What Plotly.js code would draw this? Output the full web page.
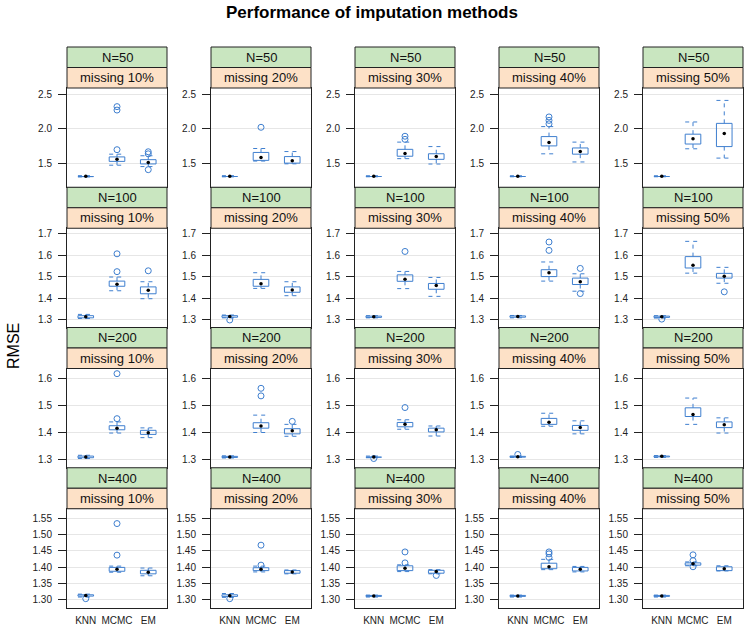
<!DOCTYPE html>
<html><head><meta charset="utf-8">
<script src="https://cdn.plot.ly/plotly-3.0.1.min.js"></script>
<style>html,body{margin:0;padding:0;background:#fff}#chart{width:745px;height:626px}</style>
</head><body><div id="chart"></div>
<script>
const methods = ['KNN', 'MCMC', 'EM'];
const sampleSizes = ['N=50', 'N=100', 'N=200', 'N=400'];
const missingRates = ['missing 10%', 'missing 20%', 'missing 30%', 'missing 40%', 'missing 50%'];

// Box statistics per missing rate: [lower whisker, Q1, median, Q3, upper whisker]
const N50_KNN = [[1.300,1.305,1.310,1.314,1.318],[1.301,1.306,1.310,1.314,1.318],[1.302,1.306,1.310,1.313,1.317],[1.302,1.306,1.310,1.313,1.317],[1.302,1.306,1.310,1.313,1.317]];
const N50_MCMC = [[1.470,1.525,1.556,1.590,1.630],[1.530,1.540,1.580,1.655,1.712],[1.565,1.600,1.640,1.700,1.805],[1.635,1.750,1.800,1.885,2.030],[1.708,1.777,1.855,1.920,2.097]];
const N50_EM = [[1.450,1.488,1.510,1.550,1.607],[1.490,1.500,1.533,1.595,1.668],[1.487,1.555,1.597,1.636,1.740],[1.517,1.630,1.670,1.720,1.805],[1.573,1.740,1.930,2.077,2.410]];
const N50_KNN_out = [[],[],[],[],[]];
const N50_MCMC_out = [[2.320,2.270,1.695],[2.020],[1.890,1.845],[2.170,2.120,2.070],[]];
const N50_EM_out = [[1.665,1.635,1.405],[],[],[],[]];

const N100_KNN = [[1.305,1.308,1.313,1.318,1.324],[1.308,1.311,1.314,1.318,1.321],[1.308,1.310,1.313,1.316,1.318],[1.308,1.311,1.314,1.317,1.319],[1.307,1.310,1.313,1.316,1.318]];
const N100_MCMC = [[1.434,1.455,1.464,1.479,1.498],[1.445,1.455,1.467,1.487,1.518],[1.444,1.478,1.488,1.508,1.524],[1.479,1.500,1.518,1.532,1.568],[1.516,1.540,1.553,1.593,1.664]];
const N100_EM = [[1.397,1.420,1.436,1.452,1.476],[1.411,1.427,1.438,1.452,1.476],[1.408,1.441,1.458,1.468,1.496],[1.432,1.463,1.476,1.493,1.513],[1.469,1.493,1.502,1.515,1.543]];
const N100_KNN_out = [[],[1.298],[],[],[1.302]];
const N100_MCMC_out = [[1.606,1.523],[],[1.617],[1.661,1.622],[]];
const N100_EM_out = [[1.527],[],[],[1.538,1.421],[1.429]];

const N200_KNN = [[1.304,1.307,1.310,1.313,1.316],[1.306,1.308,1.310,1.312,1.314],[1.307,1.309,1.310,1.311,1.313],[1.308,1.309,1.311,1.312,1.313],[1.308,1.310,1.312,1.313,1.315]];
const N200_MCMC = [[1.398,1.410,1.416,1.425,1.439],[1.400,1.416,1.424,1.436,1.464],[1.412,1.421,1.430,1.437,1.447],[1.423,1.430,1.438,1.452,1.471],[1.430,1.459,1.466,1.491,1.527]];
const N200_EM = [[1.381,1.393,1.399,1.408,1.417],[1.386,1.395,1.406,1.414,1.430],[1.387,1.402,1.410,1.416,1.424],[1.395,1.408,1.418,1.426,1.443],[1.398,1.418,1.429,1.439,1.454]];
const N200_KNN_out = [[],[],[1.304],[1.319],[]];
const N200_MCMC_out = [[1.617,1.451],[1.563,1.535],[1.492],[],[]];
const N200_EM_out = [[],[1.441],[],[],[]];

const N400_KNN = [[1.307,1.310,1.312,1.314,1.316],[1.306,1.309,1.311,1.314,1.318],[1.307,1.309,1.310,1.312,1.313],[1.307,1.309,1.310,1.312,1.313],[1.307,1.309,1.310,1.312,1.313]];
const N400_MCMC = [[1.384,1.387,1.393,1.399,1.403],[1.385,1.389,1.393,1.398,1.403],[1.386,1.389,1.396,1.404,1.407],[1.392,1.395,1.401,1.412,1.424],[1.404,1.406,1.410,1.413,1.416]];
const N400_EM = [[1.373,1.379,1.384,1.390,1.397],[1.379,1.381,1.385,1.389,1.391],[1.379,1.381,1.386,1.390,1.392],[1.385,1.388,1.393,1.399,1.402],[1.388,1.389,1.395,1.401,1.404]];
const N400_KNN_out = [[1.302],[1.302],[],[],[]];
const N400_MCMC_out = [[1.535,1.437],[1.468,1.406],[1.447,1.413],[1.447,1.441,1.430],[1.438,1.420,1.401]];
const N400_EM_out = [[],[],[1.374],[],[]];

const statsByRow = [[N50_KNN,N50_MCMC,N50_EM],[N100_KNN,N100_MCMC,N100_EM],[N200_KNN,N200_MCMC,N200_EM],[N400_KNN,N400_MCMC,N400_EM]];
const outByRow = [[N50_KNN_out,N50_MCMC_out,N50_EM_out],[N100_KNN_out,N100_MCMC_out,N100_EM_out],[N200_KNN_out,N200_MCMC_out,N200_EM_out],[N400_KNN_out,N400_MCMC_out,N400_EM_out]];

// axis setup per row
const yRanges = [[1.15,2.59],[1.263,1.725],[1.27,1.636],[1.273,1.581]];
const yTicks = [[1.5,2.0,2.5],[1.3,1.4,1.5,1.6,1.7],[1.3,1.4,1.5,1.6],[1.30,1.35,1.40,1.45,1.50,1.55]];
const yFormats = ['.1f','.1f','.1f','.2f'];

const W = 745, H = 626;
const BLUE = '#3f7fcf';
const FONT = 'Liberation Sans, Arial, Helvetica, sans-serif';
const colLeft = c => 67 + 144 * c;
const panelW = 100;
const rowTop = r => 47 + 140.25 * r;
const stripH = 20.5;

const traces = [];
const layout = {
  width: W, height: H, margin: {l:0, r:0, t:0, b:0},
  paper_bgcolor: '#fff', plot_bgcolor: '#fff', showlegend: false,
  font: {family: FONT, size: 10, color: '#222'},
  shapes: [], annotations: []
};
const halfW = 0.25;

for (let r = 0; r < 4; r++) {
  for (let c = 0; c < 5; c++) {
    const idx = r * 5 + c + 1;
    const xa = 'x' + (idx === 1 ? '' : idx);
    const ya = 'y' + (idx === 1 ? '' : idx);
    const bx = [], by = [], wx = [], wy = [], mx = [], my = [], ox = [], oy = [];
    for (let m = 0; m < 3; m++) {
      const s = statsByRow[r][m][c];
      const xc = m + 1, x0 = xc - halfW, x1 = xc + halfW;
      bx.push(x0, x1, x1, x0, x0, null); by.push(s[1], s[1], s[3], s[3], s[1], null);
      wx.push(xc, xc, null, xc, xc, null, x0, x1, null, x0, x1, null);
      wy.push(s[3], s[4], null, s[1], s[0], null, s[4], s[4], null, s[0], s[0], null);
      mx.push(xc); my.push(s[2]);
      outByRow[r][m][c].forEach(v => { ox.push(xc); oy.push(v); });
    }
    const common = {xaxis: xa, yaxis: ya, hoverinfo: 'skip', showlegend: false};
    traces.push(Object.assign({type: 'scatter', mode: 'lines', x: wx, y: wy, line: {color: BLUE, width: 1, dash: '4px,4px'}, connectgaps: false}, common));
    traces.push(Object.assign({type: 'scatter', mode: 'lines', x: bx, y: by, line: {color: BLUE, width: 1}, connectgaps: false}, common));
    traces.push(Object.assign({type: 'scatter', mode: 'markers', x: ox, y: oy, marker: {symbol: 'circle-open', size: 6, color: BLUE, line: {width: 1, color: BLUE}}}, common));
    traces.push(Object.assign({type: 'scatter', mode: 'markers', x: mx, y: my, marker: {symbol: 'circle', size: 3.5, color: '#000'}}, common));

    const L = colLeft(c), R = L + panelW;
    const T = rowTop(r);
    const pTop = T + 2 * stripH, pBot = T + 140.25;
    const xkey = 'xaxis' + (idx === 1 ? '' : idx);
    const ykey = 'yaxis' + (idx === 1 ? '' : idx);
    layout[xkey] = {
      domain: [L / W, R / W], range: [0.4, 3.6], anchor: ya,
      showgrid: false, zeroline: false, showline: true, mirror: true, linecolor: '#222', linewidth: 1,
      tickvals: [1, 2, 3], ticktext: methods, showticklabels: r === 3, ticks: '',
      ticklabelstandoff: 3, tickfont: {size: 10, color: '#222'}, fixedrange: true
    };
    layout[ykey] = {
      domain: [1 - pBot / H, 1 - pTop / H], range: yRanges[r], anchor: xa,
      tickvals: yTicks[r], tickformat: yFormats[r], ticks: 'outside', ticklen: 8, tickcolor: '#222',
      ticklabelstandoff: 4, tickfont: {size: 10, color: '#222'},
      showgrid: true, gridcolor: '#e6e6e6', gridwidth: 1, zeroline: false,
      showline: true, mirror: true, linecolor: '#222', linewidth: 1, fixedrange: true
    };
    // strips
    const strips = [[sampleSizes[r], '#c9e6c0', T], [missingRates[c], '#fde1c7', T + stripH]];
    strips.forEach(([txt, col, top]) => {
      layout.shapes.push({type: 'rect', xref: 'paper', yref: 'paper', x0: L / W, x1: R / W,
        y0: 1 - (top + stripH) / H, y1: 1 - top / H, fillcolor: col, line: {color: '#222', width: 1}, layer: 'above'});
      layout.annotations.push({xref: 'paper', yref: 'paper', x: (L + R) / 2 / W, y: 1 - (top + stripH / 2) / H,
        text: txt, showarrow: false, xanchor: 'center', yanchor: 'middle', font: {size: 13, color: '#111', family: FONT}});
    });
  }
}

layout.annotations.push({xref: 'paper', yref: 'paper', x: 372 / W, y: 1 - 12 / H, text: '<b>Performance of imputation methods</b>',
  showarrow: false, xanchor: 'center', yanchor: 'middle', font: {size: 17, color: '#000', family: FONT}});
layout.annotations.push({xref: 'paper', yref: 'paper', x: 13 / W, y: 1 - 346 / H, text: 'RMSE', textangle: -90,
  showarrow: false, xanchor: 'center', yanchor: 'middle', font: {size: 16, color: '#000', family: FONT}});

Plotly.newPlot('chart', traces, layout, {displayModeBar: false, staticPlot: true});
</script></body></html>
